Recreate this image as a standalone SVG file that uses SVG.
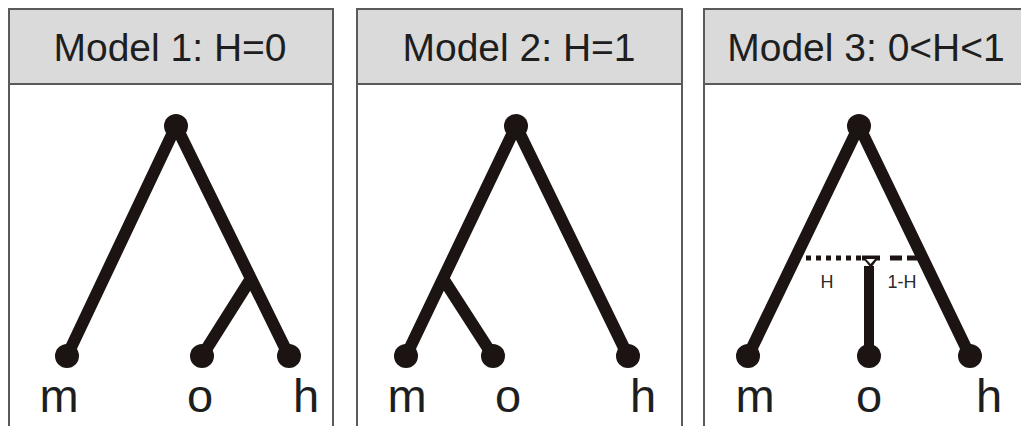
<svg xmlns="http://www.w3.org/2000/svg" width="1021" height="426" viewBox="0 0 1021 426">
<style>
.panel{fill:#fff;stroke:#5a5a5a;stroke-width:2}
.head{fill:#dadada;stroke:#5a5a5a;stroke-width:2}
.title{font-family:"Liberation Sans",Arial,sans-serif;font-size:39px;fill:#1e1e1e;text-anchor:middle}
.leaf{font-family:"Liberation Sans",Arial,sans-serif;font-size:47px;fill:#1e1e1e;text-anchor:middle}
.small{font-family:"Liberation Sans",Arial,sans-serif;font-size:18px;fill:#2a2a2a;text-anchor:middle}
.br{stroke:#1c1412;stroke-width:12;stroke-linecap:round;fill:none}
.nd{fill:#1c1412}
</style>
<g id="panel1">
<rect class="panel" x="9" y="9" width="324" height="430"/>
<rect class="head" x="9" y="9" width="324" height="75"/>
<text class="title" x="170" y="61">Model 1: H=0</text>
</g>
<g id="panel2">
<rect class="panel" x="357" y="9" width="325" height="430"/>
<rect class="head" x="357" y="9" width="325" height="75"/>
<text class="title" x="519" y="61">Model 2: H=1</text>
</g>
<g id="panel3">
<rect class="panel" x="704" y="9" width="325" height="430"/>
<rect class="head" x="704" y="9" width="325" height="75"/>
<text class="title" x="866" y="61">Model 3: 0&lt;H&lt;1</text>
</g>
<g id="connectors">
<path class="br" d="M176,126 L67,356 M176,126 L289,356 M250,280 L202,356"/>
<path class="br" d="M516,126 L406,356 M516,126 L628,356 M444,280 L493,356"/>
<path class="br" d="M859,126 L748,356 M859,126 L970,356"/>
<line x1="869" y1="266" x2="869" y2="356" stroke="#1c1412" stroke-width="10"/>
<line x1="806" y1="258" x2="862" y2="258" stroke="#1c1412" stroke-width="5" stroke-dasharray="5,5"/>
<line x1="862" y1="258" x2="880" y2="258" stroke="#1c1412" stroke-width="5"/>
<line x1="890" y1="258" x2="918" y2="258" stroke="#1c1412" stroke-width="5" stroke-dasharray="12,5"/>
<polygon points="862,257 879,257 871,268" fill="#1c1412"/>
<polygon points="866,259 875,259 870.5,264" fill="#fff"/>
</g>
<g id="tree1">
<circle class="nd" cx="176" cy="126" r="12"/>
<circle class="nd" cx="67" cy="356" r="12"/>
<circle class="nd" cx="202" cy="356" r="12"/>
<circle class="nd" cx="289" cy="356" r="12"/>
<text class="leaf" x="59" y="412">m</text>
<text class="leaf" x="200" y="412">o</text>
<text class="leaf" x="306" y="412">h</text>
</g>
<g id="tree2">
<circle class="nd" cx="516" cy="126" r="12"/>
<circle class="nd" cx="406" cy="356" r="12"/>
<circle class="nd" cx="493" cy="356" r="12"/>
<circle class="nd" cx="628" cy="356" r="12"/>
<text class="leaf" x="407" y="412">m</text>
<text class="leaf" x="508" y="412">o</text>
<text class="leaf" x="643" y="412">h</text>
</g>
<g id="tree3">
<circle class="nd" cx="859" cy="126" r="12"/>
<circle class="nd" cx="748" cy="356" r="12"/>
<circle class="nd" cx="869" cy="356" r="12"/>
<circle class="nd" cx="970" cy="356" r="12"/>
<text class="leaf" x="755" y="412">m</text>
<text class="leaf" x="869" y="412">o</text>
<text class="leaf" x="989" y="412">h</text>
<text class="small" x="827" y="288">H</text>
<text class="small" x="902" y="288">1-H</text>
</g>
</svg>
